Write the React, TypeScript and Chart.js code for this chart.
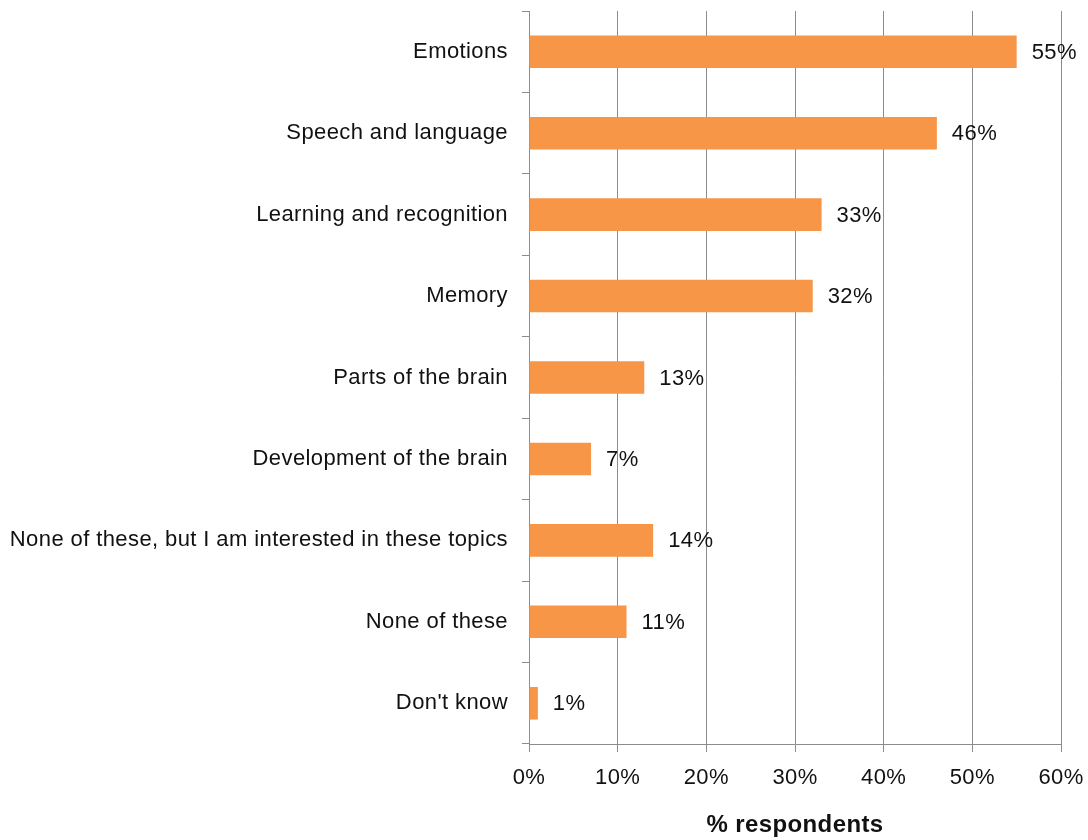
import React, { useEffect, useRef } from "react";
import { Chart, registerables } from "chart.js";

Chart.register(...registerables);

const categories = [
  "Emotions",
  "Speech and language",
  "Learning and recognition",
  "Memory",
  "Parts of the brain",
  "Development of the brain",
  "None of these, but I am interested in these topics",
  "None of these",
  "Don't know",
];
const values = [55, 46, 33, 32, 13, 7, 14, 11, 1];
const xTicks = [0, 10, 20, 30, 40, 50, 60];
const axisTitle = "% respondents";

const FONT = "'Liberation Sans', Arial, Helvetica, sans-serif";
const SPACING = "0.4px";

const spacingPlugin = {
  id: "spacing",
  beforeUpdate(chart: any) {
    chart.ctx.letterSpacing = SPACING;
  },
  beforeDraw(chart: any) {
    chart.ctx.letterSpacing = SPACING;
  },
};

const valueLabels = {
  id: "valueLabels",
  afterDatasetsDraw(chart: any) {
    const ctx = chart.ctx;
    const meta = chart.getDatasetMeta(0);
    ctx.save();
    ctx.letterSpacing = SPACING;
    ctx.font = `22px ${FONT}`;
    ctx.fillStyle = "#111";
    ctx.textAlign = "left";
    ctx.textBaseline = "middle";
    meta.data.forEach((bar: any, i: number) => {
      ctx.fillText(`${values[i]}%`, bar.x + 15, bar.y + 1);
    });
    ctx.restore();
  },
};

export default function App() {
  const ref = useRef<HTMLCanvasElement>(null);
  useEffect(() => {
    if (!ref.current) return;
    const chart = new Chart(ref.current, {
      type: "bar",
      data: {
        labels: categories,
        datasets: [
          {
            data: values,
            backgroundColor: "#F79646",
            borderWidth: 0,
            barPercentage: 0.4,
            categoryPercentage: 1,
          },
        ],
      },
      options: {
        indexAxis: "y",
        animation: false,
        responsive: false,
        maintainAspectRatio: false,
        layout: { padding: { top: 11, right: 27, left: 0, bottom: 0 } },
        plugins: { legend: { display: false }, tooltip: { enabled: false } },
        scales: {
          x: {
            min: 0,
            max: 60,
            afterBuildTicks: (scale: any) => {
              scale.ticks = xTicks.map((v) => ({ value: v }));
            },
            ticks: {
              callback: (v: any) => `${v}%`,
              font: { family: FONT, size: 22 },
              color: "#111",
              padding: 13,
              maxRotation: 0,
            },
            grid: {
              color: "#8c8c8c",
              lineWidth: 1,
              tickLength: 8,
              drawTicks: true,
            },
            border: { color: "#8c8c8c", width: 1 },
            title: {
              display: true,
              text: axisTitle,
              font: { family: FONT, size: 24, weight: "bold" },
              color: "#111",
              padding: { top: 12, bottom: 0 },
            },
            afterFit: (scale: any) => {
              scale.height = 96;
              scale.paddingLeft = 0;
              scale.paddingRight = 0;
            },
          },
          y: {
            ticks: {
              font: { family: FONT, size: 22 },
              color: "#111",
              padding: 14,
              autoSkip: false,
            },
            grid: {
              offset: true,
              drawOnChartArea: false,
              color: "#8c8c8c",
              tickLength: 7,
            },
            border: { color: "#8c8c8c", width: 1 },
            afterFit: (scale: any) => {
              scale.width = 529;
              scale.paddingTop = 0;
              scale.paddingBottom = 0;
            },
          },
        },
      },
      plugins: [spacingPlugin, valueLabels],
    });
    return () => chart.destroy();
  }, []);
  return (
    <div style={{ position: "fixed", left: 0, top: 0, width: 1088, height: 840, background: "#fff" }}>
      <canvas ref={ref} width={1088} height={840} style={{ width: 1088, height: 840 }} />
    </div>
  );
}
